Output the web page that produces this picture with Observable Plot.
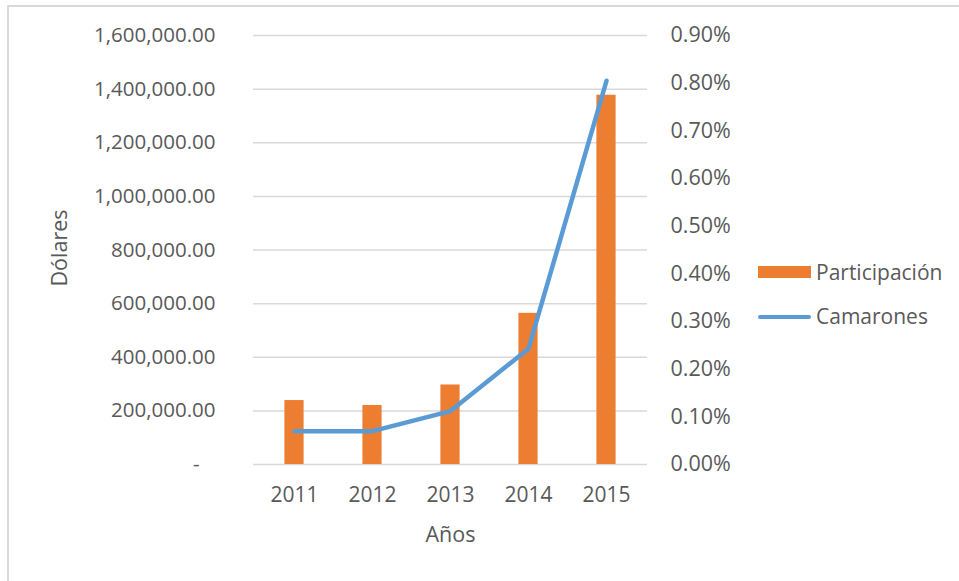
<!DOCTYPE html>
<html>
<head>
<meta charset="utf-8">
<script src="https://cdn.jsdelivr.net/npm/d3@7"></script>
<script src="https://cdn.jsdelivr.net/npm/@observablehq/plot@0.6"></script>
<style>
  html, body { margin: 0; padding: 0; background: #fff; }
  #wrap { position: relative; width: 959px; height: 581px; overflow: hidden; font-family: "Open Sans", sans-serif; color: #595959; }
  #frame { position: absolute; left: 7px; top: 5px; width: 1000px; height: 700px; border-left: 2px solid #d9d9d9; border-top: 2px solid #d9d9d9; }
  #chart { position: absolute; left: 0; top: 0; }
  .sw-bar { position: absolute; left: 758px; top: 266px; width: 53px; height: 12px; background: #ED7D31; }
  .sw-line { position: absolute; left: 758px; top: 315px; width: 53px; height: 4px; border-radius: 2px; background: #5B9BD5; }
  .lt { position: absolute; left: 816px; font-size: 21px; line-height: 26px; white-space: nowrap; }
</style>
</head>
<body>
<div id="wrap">
  <div id="frame"></div>
  <div id="chart"></div>
  <div class="sw-bar"></div>
  <div class="lt" style="top:259px">Participación</div>
  <div class="sw-line"></div>
  <div class="lt" style="top:303px">Camarones</div>
</div>
<script>
const years = ["2011", "2012", "2013", "2014", "2015"];
const barValues = [238500, 220000, 296600, 563800, 1377300];        // Participación (Dólares)
const lineValues = [0.0007, 0.0007, 0.00112, 0.00243, 0.00805];     // Camarones (%)
const leftTicks = [0, 200000, 400000, 600000, 800000, 1000000, 1200000, 1400000, 1600000];
const rightTicks = [0, 0.001, 0.002, 0.003, 0.004, 0.005, 0.006, 0.007, 0.008, 0.009];

const yMax = 1600000, pMax = 0.009;
const K = yMax / pMax;
const data = years.map((y, i) => ({year: y, usd: barValues[i], pct: lineValues[i]}));

const fmtLeft = v => v === 0 ? "-\u00a0\u00a0\u00a0" : d3.format(",.2f")(v);

const chart = Plot.plot({
  width: 959,
  height: 581,
  marginLeft: 253,
  marginRight: 312,
  marginTop: 35,
  marginBottom: 117,
  style: {fontFamily: "'Open Sans', sans-serif", background: "transparent", color: "#595959"},
  x: {domain: years, padding: 0, axis: null, label: null},
  y: {domain: [0, yMax], axis: null, label: null},
  marks: [
    Plot.gridY(leftTicks, {stroke: "#d9d9d9", strokeOpacity: 1, strokeWidth: 1.5}),
    Plot.barY(data, {x: "year", y: "usd", fill: "#ED7D31", insetLeft: 29.4, insetRight: 29.4}),
    Plot.line(data, {x: "year", y: d => d.pct * K, stroke: "#5B9BD5", strokeWidth: 4.5, strokeLinecap: "round", strokeLinejoin: "round"}),
    Plot.axisY(leftTicks, {anchor: "left", tickSize: 0, tickPadding: 38, tickFormat: fmtLeft, fontSize: 20.5, label: null}),
    Plot.axisY(rightTicks.map(p => p * K), {anchor: "right", tickSize: 0, tickPadding: 23, tickFormat: v => (v / K * 100).toFixed(2) + "%", fontSize: 21.5, label: null}),
    Plot.axisX({tickSize: 0, tickPadding: 23, fontSize: 21, label: null}),
    Plot.text(["Años"], {frameAnchor: "bottom", dy: 71, lineAnchor: "middle", textAnchor: "middle", fontSize: 21.5}),
    Plot.text(["Dólares"], {frameAnchor: "left", dx: -193, dy: -2, rotate: -90, lineAnchor: "middle", textAnchor: "middle", fontSize: 21.5})
  ]
});
document.getElementById("chart").appendChild(chart);
</script>
</body>
</html>
